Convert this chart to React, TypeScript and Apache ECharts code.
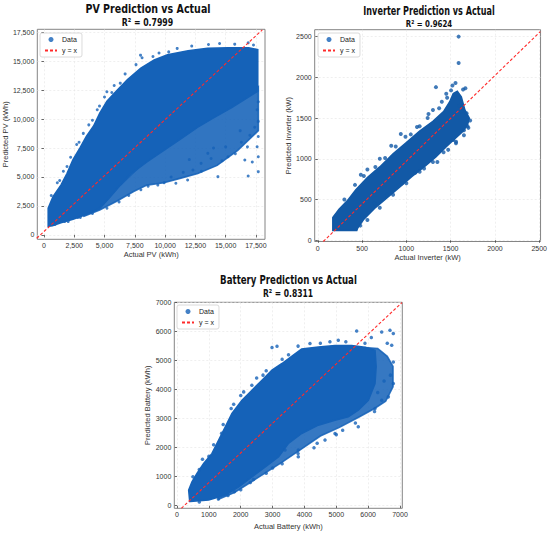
import React, { useEffect, useRef } from 'react';
import * as echarts from 'echarts';

const FONT = "'Liberation Sans', 'DejaVu Sans', sans-serif";
const TITLE_FONT = "'DejaVu Sans', 'Liberation Sans', sans-serif";
const BLUE = '#1562b8';
const BLUE_INV = '#1259a6';
const RED = '#ff2a2a';

// ---------- PV ----------
const pvTicks = [0, 2500, 5000, 7500, 10000, 12500, 15000, 17500];
const pvCore = [[350,750],[350,2300],[750,3300],[1400,4300],[1900,5300],[2400,6500],[3000,7550],[3500,8500],[4100,9400],[4600,10500],[5200,11550],[6000,12450],[6900,13400],[8000,14400],[9100,15100],[10200,15550],[11900,15900],[13500,16100],[15200,16150],[16900,16150],[17650,16000],[17650,12400],[15500,11000],[14000,10100],[12700,9300],[11300,8300],[9900,7300],[8500,6300],[7200,5300],[6300,4300],[5400,3200],[4600,2300],[3600,1800],[2400,1350],[1400,1050],[700,800]];
const pvHalo = [[4600,2300],[6300,4300],[8500,6500],[11000,8500],[14000,10500],[17700,12800],[17700,9000],[16000,7300],[14300,6000],[12700,5300],[11300,4900],[9900,4500],[8500,4300],[7400,3750],[6000,2900],[4600,2150],[3250,1580],[3600,1800]];
const pvPoints = [[5194,12356],[4583,11121],[3250,8764],[7972,15517],[8100,15300],[6300,13100],[5600,12300],[4000,9900],[2700,7800],[1900,5900],[1300,4700],[13583,16437],[14500,16523],[15750,16466],[16861,16580],[12200,16300],[11000,16100],[9500,15700],[17300,16400],[10300,15800],[17694,11500],[17600,10800],[17694,9800],[17400,9300],[17694,8500],[17600,7615],[17694,6753],[17694,5460],[16861,5086],[17200,6300],[16583,6466],[15194,6753],[14361,5029],[13528,7040],[12972,6178],[11861,4741],[10889,4454],[9917,4511],[9400,4300],[8600,4200],[12300,5600],[13000,5500],[14700,6400],[15800,7000],[16300,8000],[15000,7600],[13800,6600],[11500,5400],[10500,5000],[8000,3900],[7000,3400],[6200,2850],[5200,2300],[4000,1850],[3000,1500],[2000,1150],[16200,9000],[17000,8600],[600,3400],[1100,4500],[1600,5500],[2200,6700],[2900,8000],[3700,9500],[4400,10800],[5000,11900],[5800,12900],[6700,13900],[7600,14700],[9000,15400],[900,900],[1700,1150],[2800,1500],[3900,2000],[12000,6500],[14000,7500],[16800,7600]];
const pvRefLine = [[-600,-290],[18030,17700]];

// ---------- Inverter ----------
const invTicks = [0, 500, 1000, 1500, 2000, 2500];
const invCore = [[170,120],[170,280],[240,380],[330,480],[430,620],[560,770],[700,900],[850,1060],[1000,1200],[1150,1340],[1300,1460],[1420,1580],[1490,1700],[1530,1800],[1575,1830],[1620,1760],[1660,1600],[1710,1500],[1690,1420],[1640,1340],[1560,1260],[1450,1150],[1330,1020],[1200,900],[1060,780],[920,650],[780,520],[640,390],[520,260],[450,150],[440,120]];
const invPoints = [[1590,2500],[1590,2175],[1555,1930],[1520,1900],[1334,1880],[1640,1850],[1666,1866],[1505,1840],[1450,1800],[1400,1700],[1300,1600],[1250,1550],[937,1305],[829,1160],[700,1000],[486,805],[560,870],[1050,1300],[1150,1400],[1720,1470],[1690,1400],[1650,1350],[1561,1210],[1530,1230],[1472,1110],[1350,960],[1200,880],[1100,830],[950,700],[780,560],[640,450],[500,300],[1600,1650],[1620,1580],[1680,1560],[300,500],[420,680],[520,790],[650,900],[760,1010],[880,1150],[990,1270],[1120,1390],[1240,1500],[1370,1620],[1460,1750],[480,180],[560,250],[700,400],[850,560],[1000,700],[1150,840],[1300,960],[1420,1080],[1560,1190],[1650,1290],[1700,1380]];
const invRefLine = [[62,-15],[2512,2561]];

// ---------- Battery ----------
const batTicks = [0, 1000, 2000, 3000, 4000, 5000, 6000, 7000];
const batCore = [[400,150],[367,540],[471,826],[628,1115],[837,1459],[1099,1803],[1308,2261],[1517,2719],[1726,3180],[2040,3637],[2354,3981],[2668,4325],[2982,4670],[3296,4900],[3600,5150],[3913,5400],[4436,5470],[4959,5520],[5483,5520],[5901,5460],[6215,5350],[6250,4800],[6215,4212],[6005,3637],[5690,3293],[5377,3063],[4959,2949],[4436,2777],[3913,2491],[3500,2150],[3191,1686],[2772,1342],[2354,998],[1936,654],[1517,368],[994,196],[418,150]];
const batHalo = [[5900,5450],[6300,5420],[6600,5150],[6780,4800],[6780,4100],[6550,3600],[6200,3350],[5700,3050],[5100,2700],[4500,2400],[3900,1950],[3300,1500],[2800,1150],[2300,800],[1800,450],[1300,220],[1300,1000],[2500,2000],[4000,3500],[5500,4500]];
const batPoints = [[5640,6022],[6425,5988],[6685,6046],[6790,5933],[6739,5530],[6790,4955],[6790,4210],[6633,3751],[6215,3352],[6425,3637],[5690,2719],[4959,2491],[4646,2261],[3807,1917],[3390,1917],[3807,1686],[4174,5588],[5063,5702],[3139,5496],[2982,5451],[1779,3500],[2093,3923],[2500,4400],[1400,2500],[1000,1700],[700,1250],[2700,4500],[6100,5800],[6600,5600],[6700,4500],[6500,4300],[6300,3900],[5200,2600],[4300,2000],[3000,1300],[2400,900],[2000,550],[1600,350],[3500,5200],[4800,5650],[500,1000],[800,1600],[1150,2100],[1450,2800],[1700,3350],[2000,3800],[2350,4150],[2800,4650],[3300,5050],[3800,5500],[4500,5600],[5300,5650],[5900,5600],[700,130],[1300,230],[1800,480],[2300,800],[2800,1120],[3300,1450],[3800,1800],[4400,2150],[5000,2450],[5600,2850],[6200,3250]];
const batRefLine = [[135,-90],[7062,7000]];

// ---------- titles ----------
const titles = [
  { text: 'PV Prediction vs Actual', x: 148, y: 9, size: 12.7, scale: 0.75 },
  { text: 'R² = 0.7999', x: 147.5, y: 22.7, size: 10, scale: 0.78 },
  { text: 'Inverter Prediction vs Actual', x: 429, y: 11, size: 11.6, scale: 0.7 },
  { text: 'R² = 0.9624', x: 429, y: 23.3, size: 9.5, scale: 0.74 },
  { text: 'Battery Prediction vs Actual', x: 288.5, y: 280, size: 12.7, scale: 0.68 },
  { text: 'R² = 0.8311', x: 288, y: 293.3, size: 10, scale: 0.76 },
];

const commas = (v: number) => v.toLocaleString('en-US');

function polygon(pts: number[][], idx: number, color: string, opacity: number) {
  return {
    type: 'custom',
    xAxisIndex: idx,
    yAxisIndex: idx,
    silent: true,
    z: 1,
    data: [pts[0]],
    renderItem: (_p: any, api: any) => ({
      type: 'polygon',
      shape: { points: pts.map((p) => api.coord(p)) },
      style: { fill: color, stroke: color, lineWidth: 1.6, opacity },
    }),
  };
}

function axisPair(idx: number, xr: number[], yr: number[], xt: number[], yt: number[], fmt: (v: number) => string, xName: string, yName: string, xGap: number, yGap: number) {
  const common = (ticks: number[]) => ({
    type: 'value',
    gridIndex: idx,
    nameLocation: 'middle',
    nameTextStyle: { fontSize: 7.5, color: '#333', fontFamily: FONT },
    axisLine: { show: false },
    axisTick: { show: true, length: 2.5, customValues: ticks, lineStyle: { color: '#444', width: 0.8 } },
    axisLabel: { customValues: ticks, fontSize: 7, color: '#333', margin: 3, formatter: fmt, fontFamily: FONT },
    splitLine: { show: true, lineStyle: { color: '#e4e4e4', width: 0.6, type: [2, 2] } },
  });
  return {
    x: { ...common(xt), min: xr[0], max: xr[1], name: xName, nameGap: xGap },
    y: { ...common(yt), min: yr[0], max: yr[1], name: yName, nameGap: yGap },
  };
}

function legend(left: number, top: number) {
  return {
    orient: 'vertical',
    left,
    top,
    data: ['Data', { name: 'y = x', itemStyle: { opacity: 0 } }],
    itemWidth: 12,
    itemHeight: 5,
    itemGap: 4,
    padding: [3, 5, 3, 4],
    borderColor: '#d0d0d0',
    borderWidth: 0.8,
    borderRadius: 2,
    backgroundColor: 'rgba(255,255,255,0.85)',
    textStyle: { fontSize: 7, color: '#222', fontFamily: FONT },
  };
}

export default function App() {
  const ref = useRef<HTMLDivElement>(null);
  useEffect(() => {
    if (!ref.current) return;
    const chart = echarts.init(ref.current, undefined, { renderer: 'svg' });
    const a0 = axisPair(0, [-550, 18250], [-380, 17750], pvTicks, pvTicks, commas, 'Actual PV (kWh)', 'Predicted PV (kWh)', 11, 27);
    const a1 = axisPair(1, [-35, 2515], [-15, 2585], invTicks, invTicks, (v) => String(v), 'Actual Inverter (kW)', 'Predicted Inverter (kW)', 12, 20);
    const a2 = axisPair(2, [-85, 7072], [-89, 7010], batTicks, batTicks, (v) => String(v), 'Actual Battery (kWh)', 'Predicted Battery (kWh)', 14, 21);
    const scatter = (pts: number[][], idx: number, size: number, color: string) => ({
      type: 'scatter', name: 'Data', xAxisIndex: idx, yAxisIndex: idx, data: pts, symbolSize: size, z: 3,
      itemStyle: { color }, silent: true,
    });
    const refLine = (pts: number[][], idx: number) => ({
      type: 'line', name: 'y = x', xAxisIndex: idx, yAxisIndex: idx, data: pts, symbol: 'none', z: 5, clip: true,
      lineStyle: { color: RED, width: 1.1, type: [3, 2] }, itemStyle: { color: RED }, silent: true,
    });
    chart.setOption({
      animation: false,
      textStyle: { fontFamily: FONT },
      graphic: titles.map((t) => ({
        type: 'text',
        x: t.x,
        y: t.y,
        scaleX: t.scale,
        silent: true,
        style: {
          text: t.text,
          fontFamily: TITLE_FONT,
          fontWeight: 'bold',
          fontSize: t.size,
          fill: '#111',
          textAlign: 'center',
          verticalAlign: 'middle',
        },
      })),
      legend: [legend(40, 33), legend(318, 33), legend(177, 305)],
      grid: [
        { left: 37.3, top: 29.3, width: 227.7, height: 210, show: true, borderColor: '#777', borderWidth: 0.9, backgroundColor: '#fff' },
        { left: 314.7, top: 29.7, width: 227.3, height: 211.8, show: true, borderColor: '#777', borderWidth: 0.9, backgroundColor: '#fff' },
        { left: 174.3, top: 302.3, width: 228, height: 206, show: true, borderColor: '#777', borderWidth: 0.9, backgroundColor: '#fff' },
      ],
      xAxis: [a0.x, a1.x, a2.x],
      yAxis: [a0.y, a1.y, a2.y],
      series: [
        polygon(pvHalo, 0, BLUE, 0.88),
        polygon(pvCore, 0, BLUE, 1),
        scatter(pvPoints, 0, 3, BLUE),
        refLine(pvRefLine, 0),
        polygon(invCore, 1, BLUE_INV, 1),
        scatter(invPoints, 1, 4, BLUE_INV),
        refLine(invRefLine, 1),
        polygon(batHalo, 2, BLUE, 0.86),
        polygon(batCore, 2, BLUE, 1),
        scatter(batPoints, 2, 3.5, BLUE),
        refLine(batRefLine, 2),
      ],
    });
    return () => chart.dispose();
  }, []);
  return <div ref={ref} style={{ position: 'fixed', left: 0, top: 0, width: 550, height: 536, background: '#fff' }} />;
}
